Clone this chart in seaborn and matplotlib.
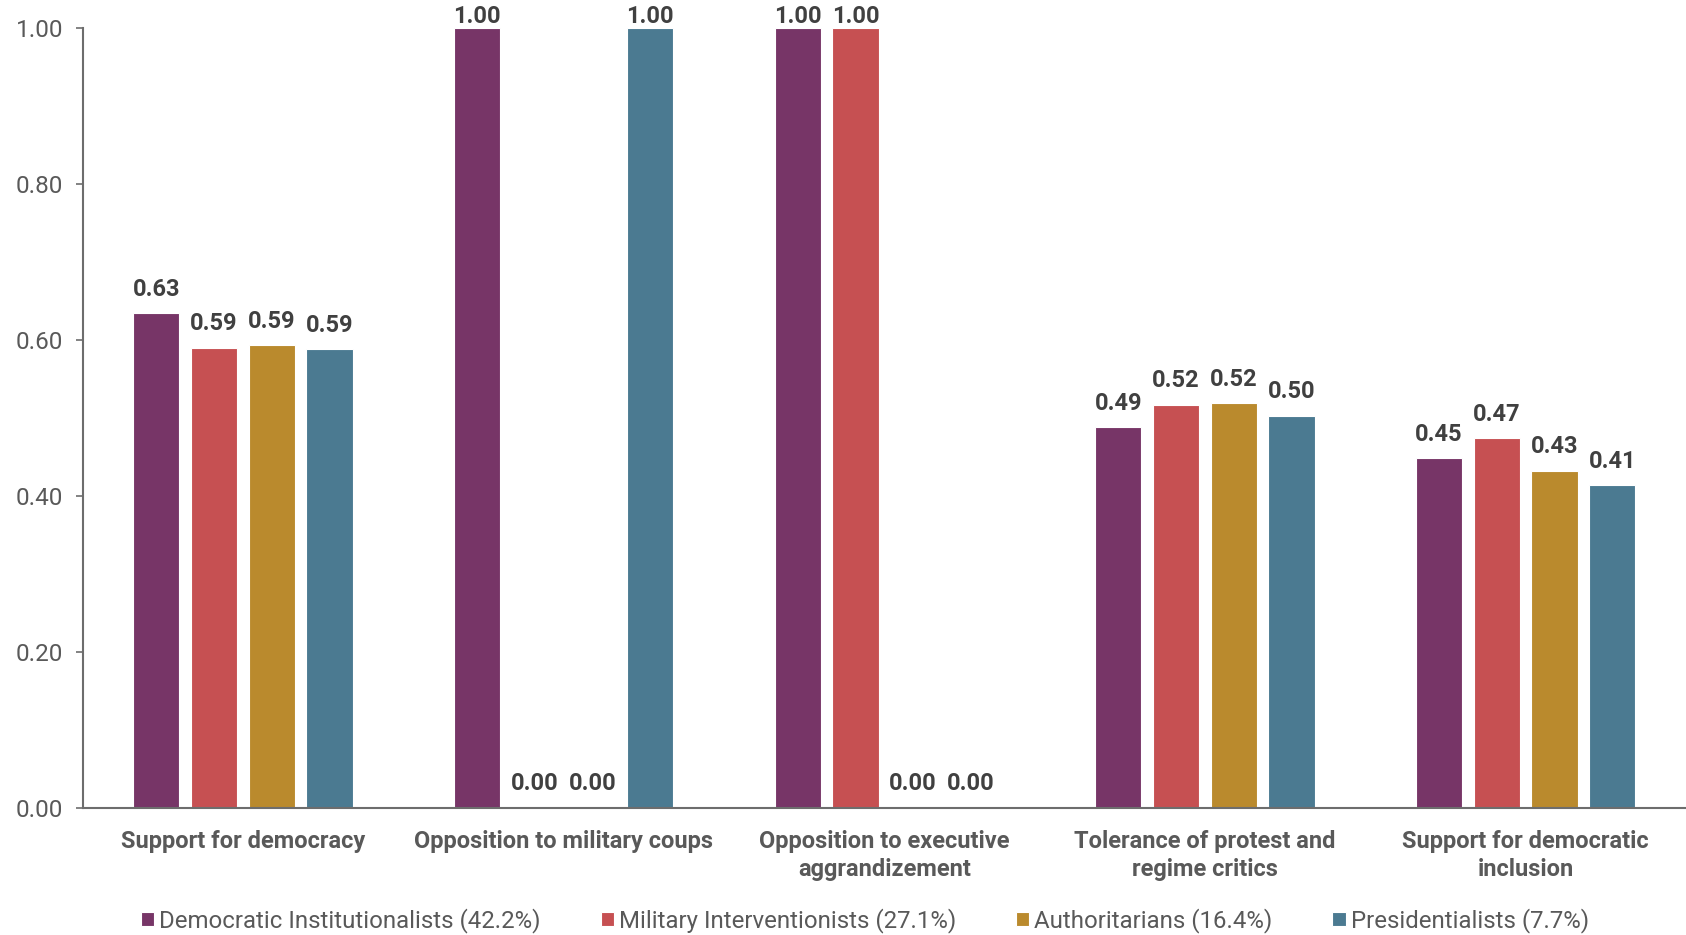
import pandas as pd
import matplotlib.pyplot as plt
import seaborn as sns

# Data
categories = ['Support for democracy', 'Opposition to military coups',
              'Opposition to executive aggrandizement',
              'Tolerance of protest and regime critics',
              'Support for democratic inclusion']
tick_labels = ['Support for democracy', 'Opposition to military coups',
               'Opposition to executive\naggrandizement',
               'Tolerance of protest and\nregime critics',
               'Support for democratic\ninclusion']
groups = ['Democratic Institutionalists (42.2%)', 'Military Interventionists (27.1%)',
          'Authoritarians (16.4%)', 'Presidentialists (7.7%)']
dem_inst = [0.634, 1.00, 1.00, 0.488, 0.448]
mil_int = [0.590, 0.00, 1.00, 0.517, 0.474]
authoritarians = [0.593, 0.00, 0.00, 0.519, 0.432]
presidentialists = [0.588, 1.00, 0.00, 0.503, 0.414]
colors = ['#773567', '#C65052', '#BA8A2D', '#4B7A91']

rows = []
for g, vals in zip(groups, [dem_inst, mil_int, authoritarians, presidentialists]):
    for c, v in zip(categories, vals):
        rows.append({'category': c, 'group': g, 'value': v})
df = pd.DataFrame(rows)

sns.set_style('white')
plt.rcParams['font.family'] = ['Roboto', 'DejaVu Sans']

fig, ax = plt.subplots(figsize=(16.86, 9.35), dpi=100)
fig.subplots_adjust(left=0.049, right=1.0, top=0.970, bottom=0.136)

sns.barplot(data=df, x='category', y='value', hue='group', order=categories,
            hue_order=groups, palette=colors, saturation=1, width=0.72, gap=0.2,
            edgecolor='white', linewidth=0.8, ax=ax)

# value labels above bars
for cont in ax.containers:
    texts = ax.bar_label(cont, fmt='%.2f', padding=9, fontsize=17,
                         fontweight='bold', color='#404040', clip_on=False)
    for t, bar in zip(texts, cont):
        if bar.get_height() >= 0.99:
            t.xyann = (0, 0)

ax.set_ylim(0, 1)
ax.set_xlim(-0.5, 4.5)
ax.set_yticks([0, 0.2, 0.4, 0.6, 0.8, 1.0])
ax.set_yticklabels(['%.2f' % v for v in [0, 0.2, 0.4, 0.6, 0.8, 1.0]])
ax.set_xticks(range(len(categories)))
ax.set_xticklabels(tick_labels, fontweight='bold', linespacing=1.25)
ax.tick_params(axis='y', labelsize=17.5, labelcolor='#595959', length=5,
               color='#6d6d6d', left=True, width=1.2, pad=9)
ax.tick_params(axis='x', labelsize=17, labelcolor='#595959', length=0, pad=16)
ax.set_xlabel('')
ax.set_ylabel('')
sns.despine(ax=ax)
for s in ['left', 'bottom']:
    ax.spines[s].set_color('#6d6d6d')
    ax.spines[s].set_linewidth(1.5)

handles, labels = ax.get_legend_handles_labels()
ax.get_legend().remove()
fig.legend(handles, labels, loc='lower center', bbox_to_anchor=(0.513, -0.021),
           ncol=4, frameon=False, fontsize=17.3, labelcolor='#595959',
           handlelength=0.55, handleheight=0.55, handletextpad=0.2,
           columnspacing=2.5)

plt.savefig('out.png', dpi=100)
